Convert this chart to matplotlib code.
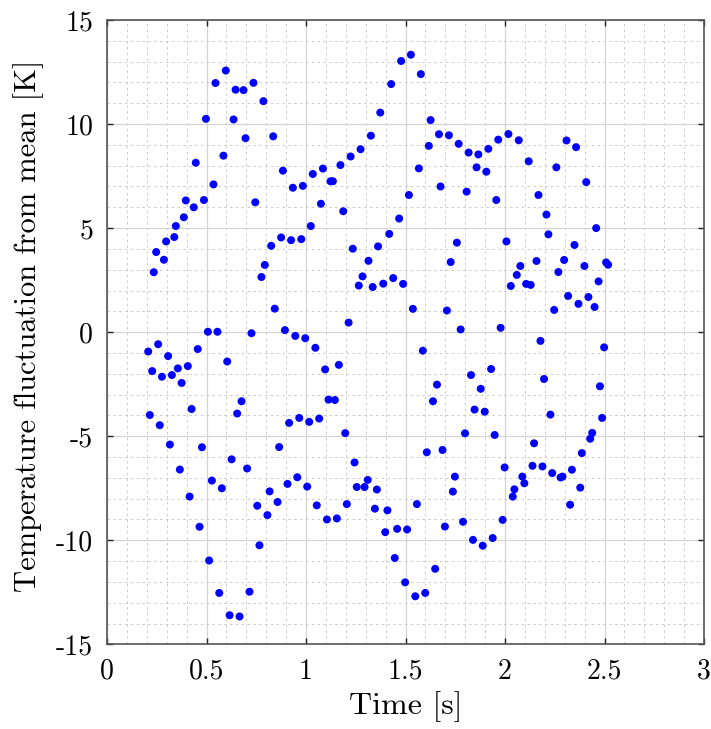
import matplotlib
matplotlib.use("Agg")
import matplotlib.pyplot as plt
from matplotlib.ticker import MultipleLocator

plt.rcParams['font.family'] = ['cmr10', 'DejaVu Serif']
plt.rcParams['axes.unicode_minus'] = False
plt.rcParams['axes.formatter.use_mathtext'] = True

# Time [s] and temperature fluctuation [K] of every sample
time_s = [
    0.597, 0.545, 0.646, 0.686, 0.736, 0.786, 0.497, 0.636, 0.696, 0.835,
    0.446, 0.585, 0.884, 0.535, 0.934, 0.984, 1.034, 1.085, 1.123, 1.135,
    1.173, 1.224, 1.274, 1.326, 1.373, 0.396, 0.487, 0.436, 0.386, 0.745,
    1.075, 1.187,
    0.346, 0.338, 0.297, 0.247, 0.286, 0.235, 0.875, 0.925, 0.976, 1.024,
    0.825, 0.793, 0.776, 0.843, 1.235, 1.314, 1.362, 1.284, 1.265, 1.335,
    1.214, 0.507, 0.555, 0.726, 0.894, 0.946, 0.996, 1.047, 1.096, 1.165,
    1.113, 1.145, 0.257, 0.207, 0.307, 0.456, 0.227, 0.356, 0.406, 0.276,
    0.326, 0.375, 0.604, 0.676, 0.654, 0.425, 0.215, 0.265, 0.915, 0.966,
    1.016, 1.066, 1.197,
    1.527, 1.478, 1.577, 1.428, 1.626, 1.668, 1.718, 1.617, 1.767, 1.817,
    1.866, 1.916, 1.966, 2.017, 2.069, 2.119, 2.309, 2.357, 2.258, 2.408,
    1.567, 1.857, 1.906, 1.676, 1.517, 1.807, 1.956, 2.168, 2.208, 1.468,
    1.418, 2.218, 2.458,
    1.388, 1.438, 1.488, 1.537, 1.758, 1.727, 1.708, 1.777, 1.978, 2.007,
    2.349, 2.158, 2.297, 2.077, 2.059, 2.029, 2.106, 2.129, 2.268, 2.399,
    2.508, 2.518, 2.470, 2.317, 2.369, 2.419, 2.450, 2.247, 2.178, 2.498,
    1.587, 1.930, 1.829, 1.658, 1.878, 1.638, 2.196, 2.477, 1.847, 1.898,
    2.228, 2.488, 1.799, 1.948, 2.438, 2.428,
    0.316, 0.477, 0.865, 0.366, 0.626, 0.704, 1.244, 0.527, 0.577, 0.415,
    0.817, 0.755, 0.857, 0.806, 0.907, 0.956, 1.006, 1.054, 1.105, 1.155,
    1.205, 1.255, 1.294, 1.310, 1.356, 1.346, 0.465, 0.766, 0.513, 0.564,
    0.716, 0.616, 0.666,
    1.409, 1.398, 1.458, 1.508, 1.446, 1.498, 1.549, 1.599, 1.649, 1.557,
    1.607, 1.686, 1.748, 1.738, 1.698, 1.789, 1.839, 1.888, 1.938, 1.988,
    1.998, 2.039, 2.047, 2.087, 2.097, 2.146, 2.138, 2.188, 2.237, 2.279,
    2.289, 2.336, 2.327, 2.378, 2.386,
]
temp_K = [
    12.57, 11.97, 11.65, 11.63, 11.98, 11.10, 10.25, 10.22, 9.32, 9.41,
    8.14, 8.48, 7.76, 7.10, 6.94, 7.03, 7.60, 7.86, 7.25, 7.25,
    8.03, 8.44, 8.79, 9.44, 10.55, 6.33, 6.35, 6.00, 5.52, 6.24,
    6.17, 5.81,
    5.10, 4.57, 4.36, 3.85, 3.48, 2.88, 4.55, 4.42, 4.47, 5.10,
    4.15, 3.23, 2.65, 1.13, 4.01, 3.43, 4.12, 2.68, 2.24, 2.17,
    0.46, 0.02, 0.02, -0.05, 0.10, -0.18, -0.29, -0.75, -1.79, -1.57,
    -3.24, -3.26, -0.58, -0.93, -1.15, -0.81, -1.87, -1.74, -1.63, -2.14,
    -2.06, -2.44, -1.41, -3.32, -3.91, -3.69, -3.98, -4.47, -4.36, -4.12,
    -4.31, -4.15, -4.85,
    13.33, 13.03, 12.40, 11.92, 10.19, 9.51, 9.46, 8.95, 9.05, 8.63,
    8.54, 8.81, 9.25, 9.52, 9.22, 8.21, 9.21, 8.89, 7.92, 7.21,
    7.87, 7.92, 7.71, 7.00, 6.59, 6.75, 6.35, 6.59, 5.65, 5.46,
    4.72, 4.70, 5.00,
    2.33, 2.60, 2.32, 1.12, 4.30, 3.37, 1.04, 0.13, 0.21, 4.36,
    4.19, 3.42, 3.47, 3.18, 2.75, 2.22, 2.32, 2.27, 2.89, 3.18,
    3.35, 3.24, 2.44, 1.74, 1.36, 1.69, 1.21, 1.07, -0.42, -0.73,
    -0.89, -1.77, -2.06, -2.52, -2.72, -3.32, -2.25, -2.60, -3.72, -3.82,
    -3.96, -4.12, -4.86, -4.94, -4.84, -5.12,
    -5.40, -5.53, -5.52, -6.60, -6.11, -6.55, -6.26, -7.13, -7.50, -7.90,
    -7.65, -8.34, -8.16, -8.79, -7.29, -6.97, -7.42, -8.32, -9.00, -8.95,
    -8.26, -7.44, -7.44, -7.10, -7.56, -8.48, -9.35, -10.24, -10.97, -12.53,
    -12.47, -13.60, -13.66,
    -8.56, -9.61, -9.45, -9.48, -10.85, -12.02, -12.69, -12.53, -11.37, -8.26,
    -5.77, -5.66, -6.94, -7.66, -9.34, -9.11, -9.98, -10.26, -9.89, -9.02,
    -6.50, -7.90, -7.55, -6.94, -7.26, -5.34, -6.42, -6.45, -6.77, -6.98,
    -6.94, -6.61, -8.29, -7.47, -5.81,
]

x_ticks = [0, 0.5, 1, 1.5, 2, 2.5, 3]
x_tick_labels = ['0', '0.5', '1', '1.5', '2', '2.5', '3']
y_ticks = [-15, -10, -5, 0, 5, 10, 15]
y_tick_labels = ['-15', '-10', '-5', '0', '5', '10', '15']

fig = plt.figure(figsize=(7.11, 7.29), dpi=100)
ax = fig.add_axes([0.1505, 0.1161, 0.8397, 0.8565])

ax.scatter(time_s, temp_K, s=33, color=(0, 0, 1), edgecolors='none', zorder=3)

ax.set_xlim(0, 3)
ax.set_ylim(-15, 15)
ax.set_xticks(x_ticks)
ax.set_xticklabels(x_tick_labels)
ax.set_yticks(y_ticks)
ax.set_yticklabels(y_tick_labels)
ax.xaxis.set_minor_locator(MultipleLocator(0.1))
ax.yaxis.set_minor_locator(MultipleLocator(1))

ax.grid(which='major', color='#d4d4d4', linewidth=0.9, linestyle='-', zorder=0)
ax.grid(which='minor', color='#c4c4c4', linewidth=0.6, linestyle=(0, (3, 4)), zorder=0)
ax.set_axisbelow(True)

ax.tick_params(which='major', direction='in', length=4, width=1, color='#222222',
               top=True, right=True, labelsize=20, pad=10)
ax.tick_params(which='minor', length=0, top=True, right=True)
for sp in ax.spines.values():
    sp.set_color('#555555')
    sp.set_linewidth(1.2)

ax.set_xlabel('Time [s]', fontsize=23, labelpad=5)
ax.set_ylabel('Temperature fluctuation from mean [K]', fontsize=22)
ax.yaxis.set_label_coords(-0.105, 0.51)

fig.savefig('out.png', dpi=100)
